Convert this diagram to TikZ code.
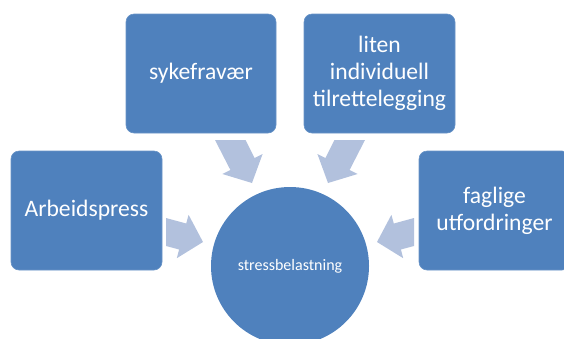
\documentclass[tikz,border=0pt]{standalone}
\usepackage{fontspec}
\setmainfont{Carlito}
\definecolor{boxblue}{HTML}{4F81BD}
\definecolor{arrblue}{HTML}{B2C1DD}
\begin{document}
\begin{tikzpicture}[x=1pt,y=-1pt,
  box/.style={fill=boxblue, draw=boxblue!85!white, line width=0.6pt, rounded corners=8pt,
    minimum width=151pt, minimum height=119pt, text=white, align=center,
    font=\fontsize{23.6}{27}\selectfont, inner sep=2pt},
  hub/.style={circle, fill=boxblue, minimum size=158pt, inner sep=0pt, text=white,
    font=\fontsize{16}{18}\selectfont},
  arr/.style={fill=arrblue}]
\useasboundingbox (0,0) rectangle (564,338);
\clip (0,0) rectangle (564,338);
\node[box] (arb) at (86.5,210.5) {Arbeidspress};
\node[box, minimum width=150pt] (syk) at (201,73.5) {sykefravær};
\node[box] (lit) at (379.5,73.5) {liten\\individuell\\tilrettelegging};
\node[box] (fag) at (494.5,210.5) {faglige\\utfordringer};
\node[hub] (hub) at (290,266) {stressbelastning};
% block arrows pointing to the hub
\fill[arr] (215,140) -- (245.6,140) -- (254.6,158) -- (262.6,154) -- (252,183) -- (222.4,174) -- (230.4,170) -- cycle;
\fill[arr] (365,140) -- (334.4,140) -- (325.4,158) -- (317.4,154) -- (328,183) -- (357.6,174) -- (349.6,170) -- cycle;
\fill[arr] (166,218) -- (186.2,223.5) -- (188.6,214.8) -- (203,242) -- (176.8,258.2) -- (179.1,249.5) -- (166,246) -- cycle;
\fill[arr] (414,218) -- (393.8,223.5) -- (391.4,214.8) -- (377,242) -- (403.2,258.2) -- (400.9,249.5) -- (414,246) -- cycle;
\end{tikzpicture}
\end{document}
